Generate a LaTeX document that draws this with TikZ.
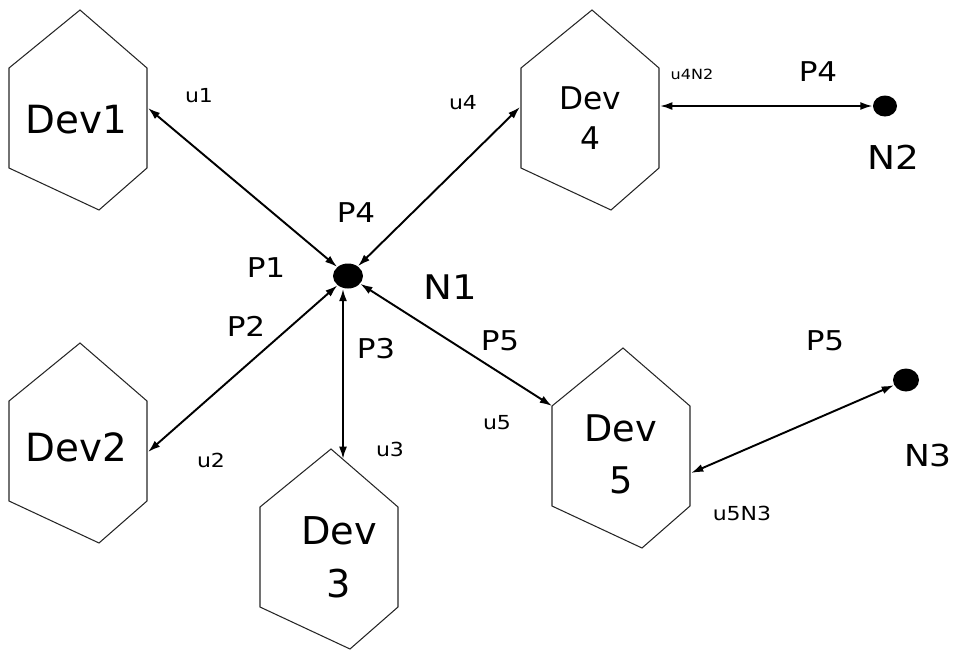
\documentclass[tikz,border=0pt]{standalone}
\usepackage{fontspec}
\setmainfont{DejaVu Sans}
\newfontfamily\lblfont{DejaVu Sans}[FakeStretch=1.14]
\usetikzlibrary{arrows.meta,shapes.geometric}

% irregular hexagon, #1 = left x, #2 = top y
\newcommand{\devhex}[2]{\draw[hexline] (#1+71,#2) -- (#1+138,#2+58) -- (#1+138,#2+158) -- (#1+90,#2+200) -- (#1,#2+158) -- (#1,#2+58) -- cycle;}

\begin{document}
\begin{tikzpicture}[x=0.02cm, y=-0.02cm,
	hexline/.style={line width=0.6pt, color=black!85},
	link/.style={{Latex[length=7pt,width=4.5pt]}-{Latex[length=7pt,width=4.5pt]}, line width=1.1pt},
	hub/.style={ellipse, fill=black, inner sep=0pt, minimum width=0.5cm, minimum height=0.44cm},
	devtxt/.style={align=center, inner sep=0pt, font=\fontsize{22.1}{29}\selectfont},
	ntxt/.style={inner sep=0pt, font=\lblfont\fontsize{19}{22}\selectfont},
	ptxt/.style={inner sep=0pt, font=\lblfont\fontsize{15.5}{18}\selectfont},
	utxt/.style={inner sep=0pt, font=\lblfont\fontsize{11}{13}\selectfont}]
	\useasboundingbox (0,0) rectangle (958,650);
	\devhex{9}{10}
	\devhex{9}{343}
	\devhex{260}{449}
	\devhex{521}{10}
	\devhex{552}{348}
	\node[devtxt] (dev1) at (76,120) {Dev1};
	\node[devtxt] (dev2) at (76,447) {Dev2};
	\node[devtxt, font=\fontsize{21.8}{30}\selectfont] (dev3) at (339,557) {Dev\\3};
	\node[devtxt, font=\fontsize{17.8}{23.2}\selectfont] (dev4) at (590,118) {Dev\\4};
	\node[devtxt, font=\fontsize{20.9}{29.5}\selectfont] (dev5) at (621,454) {Dev\\5};
	\node[hub, minimum width=0.6cm, minimum height=0.5cm] (n1) at (348,276) {};
	\node[hub, minimum width=0.48cm, minimum height=0.42cm] (n2) at (885,106) {};
	\node[hub, minimum width=0.52cm, minimum height=0.46cm] (n3) at (906,380) {};
	\coordinate (d1r) at (148,108);
	\coordinate (d2r) at (148,452);
	\coordinate (d3t) at (343,459);
	\coordinate (d4l) at (520,107);
	\coordinate (d4r) at (660,106);
	\coordinate (d5l) at (552,406);
	\coordinate (d5r) at (691,473);
	\draw[link] (d1r) -- (n1);
	\draw[link] (d2r) -- (n1);
	\draw[link] (d3t) -- (d3t |- n1.south);
	\draw[link] (d4l) -- (n1);
	\draw[link] (d5l) -- (n1);
	\draw[link] (d4r) -- (n2);
	\draw[link] (d5r) -- (n3);
	\node[ntxt, font=\lblfont\fontsize{19.3}{24}\selectfont] (l-n1) at (450,287) {N1};
	\node[ntxt, font=\lblfont\fontsize{18.7}{22}\selectfont] (l-n2) at (893,157) {N2};
	\node[ntxt, font=\lblfont\fontsize{17.2}{21}\selectfont] (l-n3) at (928,455) {N3};
	\node[ptxt] (p1) at (266,268) {P1};
	\node[ptxt] (p2) at (246,326) {P2};
	\node[ptxt] (p3) at (376,349) {P3};
	\node[ptxt] (p4a) at (356,213) {P4};
	\node[ptxt] (p4b) at (818,72) {P4};
	\node[ptxt] (p5a) at (500,341) {P5};
	\node[ptxt] (p5b) at (825,341) {P5};
	\node[utxt] (u1) at (199,96) {u1};
	\node[utxt] (u2) at (211,460) {u2};
	\node[utxt] (u3) at (390,449) {u3};
	\node[utxt] (u4) at (463,103) {u4};
	\node[utxt] (u5) at (497,423) {u5};
	\node[utxt, font=\lblfont\fontsize{8}{10}\selectfont] (u4n2) at (692,74) {u4N2};
	\node[utxt] (u5n3) at (742,513) {u5N3};
\end{tikzpicture}
\end{document}
